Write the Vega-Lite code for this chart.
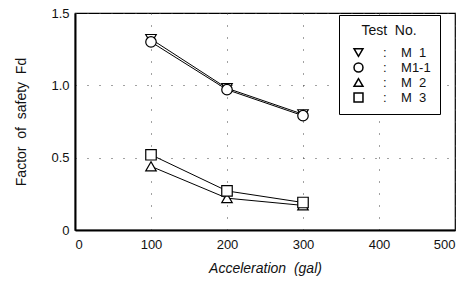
{
  "$schema": "https://vega.github.io/schema/vega-lite/v6.json",
  "width": 380,
  "height": 217,
  "autosize": {"type": "none"},
  "padding": {"left": 75, "top": 13, "right": 21, "bottom": 52},
  "background": "white",
  "config": {
    "font": "Liberation Sans",
    "view": {"stroke": "black", "strokeWidth": 1.2},
    "axis": {
      "labelFont": "Liberation Sans",
      "titleFont": "Liberation Sans",
      "labelFontSize": 13,
      "titleFontSize": 14,
      "titleFontWeight": "normal",
      "labelColor": "#111",
      "titleColor": "#111",
      "domainColor": "black",
      "domainWidth": 2,
      "ticks": false,
      "gridColor": "#444",
      "gridDash": [1, 11],
      "gridWidth": 1
    }
  },
  "data": {
    "values": [
      {"acc": 100, "fd": 1.32, "test": "M 1"},
      {"acc": 200, "fd": 0.98, "test": "M 1"},
      {"acc": 300, "fd": 0.80, "test": "M 1"},
      {"acc": 100, "fd": 1.30, "test": "M1-1"},
      {"acc": 200, "fd": 0.97, "test": "M1-1"},
      {"acc": 300, "fd": 0.79, "test": "M1-1"},
      {"acc": 100, "fd": 0.44, "test": "M 2"},
      {"acc": 200, "fd": 0.22, "test": "M 2"},
      {"acc": 300, "fd": 0.17, "test": "M 2"},
      {"acc": 100, "fd": 0.52, "test": "M 3"},
      {"acc": 200, "fd": 0.27, "test": "M 3"},
      {"acc": 300, "fd": 0.19, "test": "M 3"}
    ]
  },
  "encoding": {
    "x": {
      "field": "acc", "type": "quantitative",
      "scale": {"domain": [0, 500], "nice": false},
      "axis": {"values": [0, 100, 200, 300, 400, 500], "title": "Acceleration\u00a0\u00a0(gal)", "titleFontStyle": "italic", "labelPadding": 8, "titlePadding": 10}
    },
    "y": {
      "field": "fd", "type": "quantitative",
      "scale": {"domain": [0, 1.5], "nice": false},
      "axis": {"values": [0, 0.5, 1.0, 1.5], "labelExpr": "datum.value == 0 ? '0' : format(datum.value, '.1f')", "title": "Factor\u00a0\u00a0of\u00a0\u00a0safety\u00a0\u00a0Fd", "labelPadding": 6, "titlePadding": 22}
    }
  },
  "layer": [
    {
      "mark": {"type": "line", "color": "black", "strokeWidth": 1},
      "encoding": {"detail": {"field": "test"}}
    },
    {
      "mark": {"type": "point", "filled": false, "color": "black", "fill": "white", "fillOpacity": 1, "strokeWidth": 1.2, "size": 110, "opacity": 1},
      "encoding": {
        "shape": {
          "field": "test", "type": "nominal",
          "scale": {"domain": ["M 1", "M1-1", "M 2", "M 3"], "range": ["triangle-down", "circle", "triangle-up", "square"]},
          "legend": {
            "title": "Test\u00a0\u00a0No.",
            "titleFontSize": 14,
            "titleFontWeight": "normal",
            "titleColor": "#111",
            "titleAlign": "center",
            "titleAnchor": "middle",
            "titlePadding": 8,
            "labelFontSize": 13,
            "labelColor": "#111",
            "labelExpr": "':\u00a0\u00a0\u00a0\u00a0' + replace(datum.label, ' ', '\u00a0\u00a0') + '\u00a0\u00a0\u00a0'",
            "labelOffset": 18,
            "orient": "none",
            "legendX": 264,
            "legendY": 2,
            "strokeColor": "black",
            "fillColor": "white",
            "padding": 9,
            "symbolSize": 80,
            "symbolOffset": 4,
            "rowPadding": 0,
            "encode": {
              "symbols": {
                "update": {
                  "stroke": {"value": "black"},
                  "fill": {"value": "white"},
                  "strokeWidth": {"value": 1.1},
                  "opacity": {"value": 1},
                  "fillOpacity": {"value": 1},
                  "strokeOpacity": {"value": 1}
                }
              }
            }
          }
        }
      }
    }
  ]
}
